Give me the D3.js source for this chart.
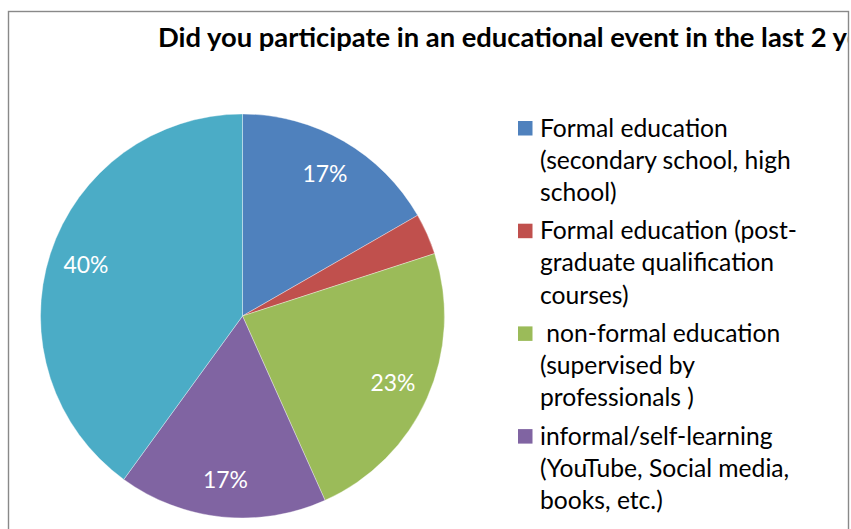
<!DOCTYPE html>
<html>
<head>
<meta charset="utf-8">
<script src="https://cdn.jsdelivr.net/npm/d3@7"></script>
<style>
  html, body { margin: 0; padding: 0; background: #ffffff; }
  svg { display: block; }
</style>
</head>
<body>
<svg id="chart" width="851" height="529"></svg>
<script>
// Survey answers, share of respondents in percent
const categories = [
  "Formal education (secondary school, high school)",
  "Formal education (post-graduate qualification courses)",
  " non-formal education (supervised by professionals )",
  "informal/self-learning (YouTube, Social media, books, etc.)",
  "did not participate"
];
const legendLines = [
  ["Formal education", "(secondary school, high", "school)"],
  ["Formal education (post-", "graduate qualification", "courses)"],
  [" non-formal education", "(supervised by", "professionals )"],
  ["informal/self-learning", "(YouTube, Social media,", "books, etc.)"],
  ["did not participate"]
];
const shares = [16.7, 3.3, 23.3, 16.7, 40.0];
const colors = ["#4F81BD", "#C0504D", "#9BBB59", "#8064A2", "#4BACC6"];
const titleText = "Did you participate in an educational event in the last 2 years?";

const W = 851, H = 529;
const FONT = "Lato, 'Open Sans', sans-serif";
const svg = d3.select("#chart");

svg.append("rect").attr("width", W).attr("height", H).attr("fill", "#ffffff");

// measure a string at 100px and scale the size to reach a given width
function sizeFor(str, weight, width) {
  const t = svg.append("text")
    .attr("font-family", FONT).attr("font-weight", weight)
    .attr("font-size", 100).style("white-space", "pre").text(str);
  const w = t.node().getComputedTextLength();
  t.remove();
  return 100 * width / w;
}

// chart area frame
const frame = { x: 8.5, y: 11.5, w: 840, h: 620 };
svg.append("defs").append("clipPath").attr("id", "area")
  .append("rect").attr("x", frame.x).attr("y", frame.y)
  .attr("width", frame.w - 1).attr("height", frame.h);

const area = svg.append("g").attr("clip-path", "url(#area)");

// title
const titleSize = sizeFor("Did you participate in an educational event in the last 2", 700, 669);
area.append("text")
  .attr("x", 158).attr("y", 47)
  .attr("font-family", FONT).attr("font-weight", 700)
  .attr("font-size", titleSize).attr("fill", "#000000")
  .text(titleText);

// pie
const cx = 242.5, cy = 316, r = 202;
const pie = d3.pie().sort(null).value(d => d)(shares);
const arc = d3.arc().innerRadius(0).outerRadius(r);
const labelArc = d3.arc().innerRadius(r * 0.815).outerRadius(r * 0.815);

const pieG = area.append("g").attr("transform", `translate(${cx},${cy})`);
pieG.selectAll("path.slice").data(pie).join("path")
  .attr("class", "slice")
  .attr("d", arc)
  .attr("fill", (d, i) => colors[i])
  .attr("stroke", "#ffffff").attr("stroke-width", 0.6).attr("stroke-opacity", 0.6);

const pct = v => d3.format(".0f")(v) + "%";
const labelSize = sizeFor("17%", 400, 45);
pieG.selectAll("text.val").data(pie.filter(d => d.data >= 5)).join("text")
  .attr("class", "val")
  .attr("transform", d => `translate(${labelArc.centroid(d)})`)
  .attr("text-anchor", "middle").attr("dy", "0.36em")
  .attr("font-family", FONT).attr("font-size", labelSize)
  .attr("fill", "#ffffff")
  .text(d => pct(d.data));

// legend: entries that would start below the page are left out
const legSize = sizeFor("Formal education", 400, 188);
const legX = 518, legTop = 136.5, entryStep = 102.7, lineStep = 32.2;
const shown = categories.map((c, i) => i).filter(i => legTop + i * entryStep < H - 10);
const leg = area.append("g");
const entries = leg.selectAll("g.entry").data(shown).join("g")
  .attr("class", "entry")
  .attr("transform", i => `translate(${legX},${legTop + i * entryStep})`);
entries.append("rect")
  .attr("x", 0).attr("y", -15.5).attr("width", 14.5).attr("height", 14.5)
  .attr("fill", i => colors[i]);
entries.each(function (i) {
  const t = d3.select(this).append("text")
    .attr("font-family", FONT).attr("font-size", legSize)
    .attr("fill", "#000000").style("white-space", "pre");
  t.selectAll("tspan").data(legendLines[i]).join("tspan")
    .attr("x", 22).attr("y", (s, j) => j * lineStep)
    .text(s => s);
});

// frame border
svg.append("rect")
  .attr("x", frame.x).attr("y", frame.y)
  .attr("width", frame.w).attr("height", frame.h)
  .attr("fill", "none").attr("stroke", "#898989").attr("stroke-width", 1.4);
</script>
</body>
</html>
